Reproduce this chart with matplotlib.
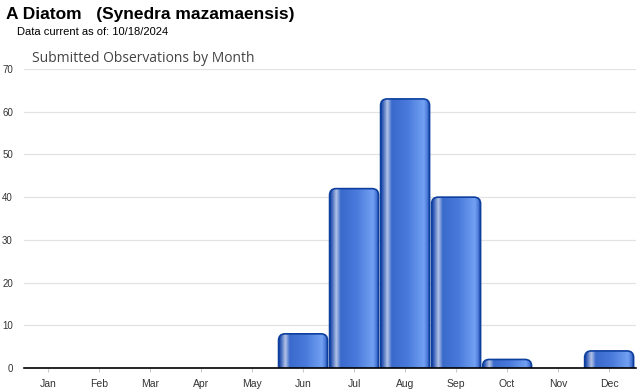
import numpy as np
import matplotlib
matplotlib.use("Agg")
import matplotlib.pyplot as plt
from matplotlib.patches import FancyBboxPatch
from matplotlib.colors import LinearSegmentedColormap

months = ["Jan", "Feb", "Mar", "Apr", "May", "Jun", "Jul", "Aug", "Sep", "Oct", "Nov", "Dec"]
counts = [0, 0, 0, 0, 0, 8, 42, 63, 40, 2, 0, 4]
yticks = [0, 10, 20, 30, 40, 50, 60, 70]

fig = plt.figure(figsize=(6.4, 3.9), dpi=100)
ax = fig.add_axes([0.0375, 0.0564, 0.9565, 0.7666])
ax.set_xlim(-0.47, 11.53)
ax.set_ylim(0, 70)

cmap = LinearSegmentedColormap.from_list("bar", [
    (0.0, "#1442a3"),
    (0.05, "#4a6fc0"),
    (0.13, "#b4c4e6"),
    (0.22, "#3a6acb"),
    (0.55, "#4a7bdc"),
    (0.88, "#72a0f2"),
    (0.95, "#4a78d6"),
    (1.0, "#1442a3"),
])
grad = np.linspace(0, 1, 256).reshape(1, -1)

px_x = 0.9565 * 640 / 12.0
px_y = 0.7666 * 390 / 70.0
aspect = px_x / px_y
width = 0.96

for i, v in enumerate(counts):
    if v <= 0:
        continue
    x0 = i - width / 2
    y0 = -3
    h = v - y0
    r = min(0.13, (h / aspect) / 2.0)
    patch = FancyBboxPatch((x0, y0), width, h,
                           boxstyle=f"round,pad=0,rounding_size={r}",
                           mutation_aspect=aspect,
                           facecolor="none", edgecolor="#0d3f9e", linewidth=1.2,
                           zorder=3)
    ax.add_patch(patch)
    im = ax.imshow(grad, cmap=cmap, extent=[x0, x0 + width, y0, v],
                   aspect="auto", zorder=2, interpolation="bilinear")
    im.set_clip_path(patch)

ax.set_xlim(-0.47, 11.53)
ax.set_ylim(0, 70)

ax.set_yticks(yticks)
ax.set_yticklabels([str(t) for t in yticks], fontsize=7, color="#333333",
                   family="Liberation Sans")
ax.set_xticks(range(12))
ax.set_xticklabels(months, fontsize=7.5, color="#333333", family="Liberation Sans")
ax.tick_params(axis="y", length=0, pad=8)
ax.tick_params(axis="x", length=3, color="#cccccc", pad=5)
ax.grid(axis="y", color="#e3e3e3", linewidth=0.9, zorder=0)
ax.set_axisbelow(True)
for s in ["top", "right", "left"]:
    ax.spines[s].set_visible(False)
ax.spines["bottom"].set_color("black")
ax.spines["bottom"].set_linewidth(1.2)
ax.spines["bottom"].set_zorder(5)

fig.text(6 / 640, 1 - 15 / 390, "A Diatom   (Synedra mazamaensis)", fontsize=12.5,
         fontweight="bold", family="Liberation Sans", va="center", ha="left")
fig.text(17 / 640, 1 - 32 / 390, "Data current as of: 10/18/2024", fontsize=8,
         family="Liberation Sans", va="center", ha="left")
fig.text(32 / 640, 1 - 58 / 390, "Submitted Observations by Month", fontsize=10,
         color="#444444", family="Open Sans", va="center", ha="left")

fig.savefig("out.png", dpi=100)
